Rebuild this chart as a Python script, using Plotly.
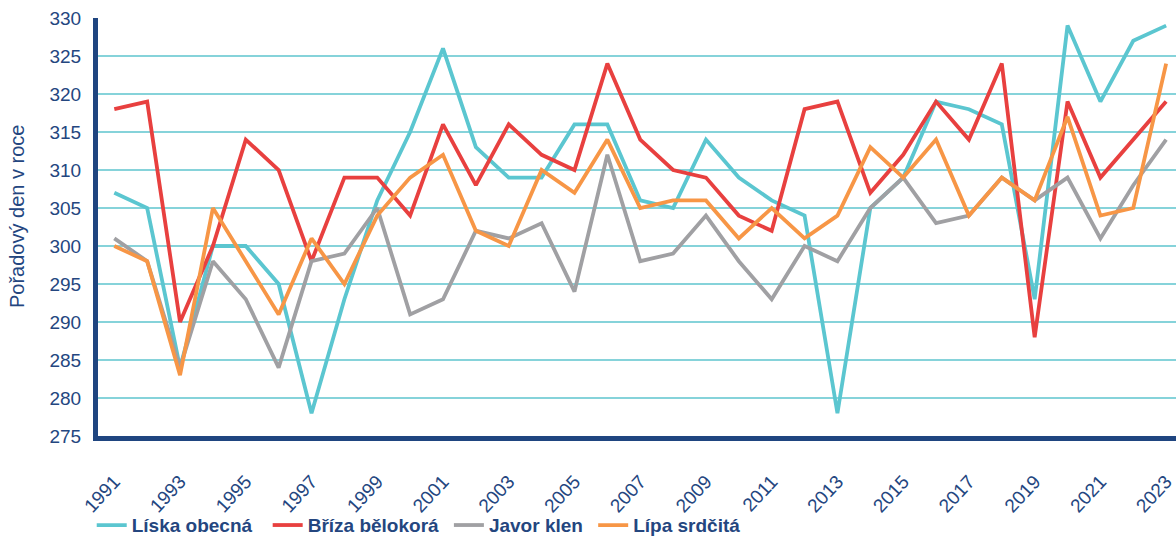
import plotly.graph_objects as go

years = list(range(1991, 2024))

liska = [307, 305, 284, 300, 300, 295, 278, 293, 306, 315, 326, 313, 309, 309, 316, 316,
         306, 305, 314, 309, 306, 304, 278, 305, 309, 319, 318, 316, 293, 329, 319, 327, 329]
briza = [318, 319, 290, 300, 314, 310, 298, 309, 309, 304, 316, 308, 316, 312, 310, 324,
         314, 310, 309, 304, 302, 318, 319, 307, 312, 319, 314, 324, 288, 319, 309, 314, 319]
javor = [301, 298, 284, 298, 293, 284, 298, 299, 305, 291, 293, 302, 301, 303, 294, 312,
         298, 299, 304, 298, 293, 300, 298, 305, 309, 303, 304, 309, 306, 309, 301, 308, 314]
lipa = [300, 298, 283, 305, 298, 291, 301, 295, 304, 309, 312, 302, 300, 310, 307, 314,
        305, 306, 306, 301, 305, 301, 304, 313, 309, 314, 304, 309, 306, 317, 304, 305, 324]

series_names = ["Líska obecná", "Bříza bělokorá", "Javor klen", "Lípa srdčitá"]
series_values = [liska, briza, javor, lipa]
series_colors = ["#5bc6d0", "#e8403f", "#a0a0a3", "#f79646"]
# extra spacing after each legend entry (non-breaking spaces)
legend_pad = [2, 1, 1, 0]

NAVY = "#1f4580"
TEXT = "#24467f"

fig = go.Figure()
for name, vals, col, pad in zip(series_names, series_values, series_colors, legend_pad):
    fig.add_trace(go.Scatter(
        x=years, y=vals, name=name + "\u00a0" * pad, mode="lines",
        line=dict(color=col, width=3.8),
        hoverinfo="skip",
    ))

fig.update_layout(
    width=1176, height=537,
    margin=dict(l=98, r=0, t=18, b=101),
    paper_bgcolor="white", plot_bgcolor="white",
    font=dict(family="Liberation Sans, Arial", color=TEXT),
    showlegend=True,
    legend=dict(
        orientation="h", xref="container", yref="container",
        x=0.078, y=0.022, yanchor="middle",
        font=dict(family="Liberation Sans, Arial", size=19, color=TEXT, weight="bold"),
        bgcolor="rgba(0,0,0,0)", itemwidth=30,
    ),
    xaxis=dict(
        range=[1990.504, 2023.3], tick0=1991, dtick=2, tickmode="linear",
        tickangle=-47, tickfont=dict(size=19, color=TEXT),
        showgrid=False, zeroline=False, automargin=False,
        ticklabeloverflow="allow",
        showline=True, linecolor=NAVY, linewidth=5,
        ticks="", ticklabelstandoff=22,
    ),
    yaxis=dict(
        range=[275, 330], tick0=275, dtick=5, tickmode="linear",
        tickfont=dict(size=19, color=TEXT),
        showgrid=True, gridcolor="#86d3da", gridwidth=1.6,
        zeroline=False, showline=True, linecolor=NAVY, linewidth=5,
        ticks="", ticklabelstandoff=8, automargin=False,
    ),
    annotations=[dict(
        text="Pořadový den v roce", textangle=-90,
        xref="paper", yref="paper", x=-0.0751, y=0.524,
        xanchor="center", yanchor="middle", showarrow=False,
        font=dict(size=20, color=TEXT),
    )],
)

fig.write_html("out.html")
